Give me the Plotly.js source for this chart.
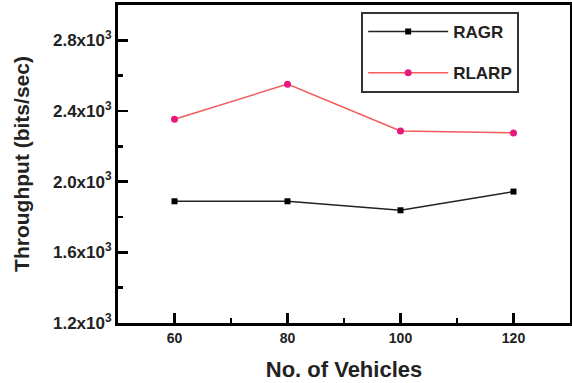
<!DOCTYPE html>
<html><head><meta charset="utf-8">
<script src="https://cdn.plot.ly/plotly-3.0.1.min.js"></script>
<style>html,body{margin:0;padding:0;background:#fff}#c{width:572px;height:383px}</style>
</head><body><div id="c"></div>
<script>
const vehicles = [60, 80, 100, 120];
const ragr = [1889, 1889, 1838, 1944];
const rlarp = [2353, 2552, 2287, 2276];
const yTickVals = [1200, 1600, 2000, 2400, 2800];
const yTickText = ["1.2x10<sup>3</sup>", "1.6x10<sup>3</sup>", "2.0x10<sup>3</sup>", "2.4x10<sup>3</sup>", "2.8x10<sup>3</sup>"];
const xTickVals = [60, 80, 100, 120];

const F = "Liberation Sans, Arial, sans-serif";
const traces = [
  {x: vehicles, y: ragr, name: "RAGR", mode: "lines+markers", legendgroup: "a",
   line: {color: "#222", width: 1.5}, marker: {symbol: "square", size: 6, color: "#000"}},
  {x: vehicles, y: rlarp, name: "RLARP", mode: "lines+markers", legendgroup: "b",
   line: {color: "#f45a5a", width: 1.5}, marker: {symbol: "circle", size: 7, color: "#e8197a"}}
];
const layout = {
  width: 572, height: 383,
  margin: {l: 118, r: 2, t: 5, b: 60},
  paper_bgcolor: "#fff", plot_bgcolor: "#fff",
  font: {family: F, color: "#111"},
  showlegend: true,
  legend: {x: 0.538, y: 0.978, xanchor: "left", yanchor: "top",
    bordercolor: "#333", borderwidth: 2, bgcolor: "#fff",
    font: {family: F, size: 17, weight: "bold", color: "#222"},
    itemwidth: 80,
    traceorder: "grouped", tracegroupgap: 16},
  xaxis: {range: [50, 130], tickvals: xTickVals, ticks: "inside", ticklen: 10, tickwidth: 2.5, tickcolor: "#000",
    minor: {dtick: 10, ticks: "inside", ticklen: 5, tickwidth: 2.5, tickcolor: "#000"},
    showline: true, linewidth: 3, linecolor: "#000", mirror: true, showgrid: false, zeroline: false,
    tickfont: {family: F, size: 14, weight: "bold", color: "#222"},
    title: {text: "No. of Vehicles", font: {family: F, size: 22, weight: "bold", color: "#222"}, standoff: 17}},
  yaxis: {range: [1200, 3000], tickvals: yTickVals, ticktext: yTickText, ticks: "inside", ticklen: 10, tickwidth: 2.5, tickcolor: "#000",
    minor: {dtick: 200, ticks: "inside", ticklen: 5, tickwidth: 2.5, tickcolor: "#000"},
    showline: true, linewidth: 3, linecolor: "#000", mirror: true, showgrid: false, zeroline: false,
    tickfont: {family: F, size: 17, weight: "bold", color: "#222"},
    title: {text: "Throughput (bits/sec)", font: {family: F, size: 21, weight: "bold", color: "#222"}, standoff: 18}}
};
Plotly.newPlot("c", traces, layout, {displayModeBar: false, staticPlot: true});
</script></body></html>
